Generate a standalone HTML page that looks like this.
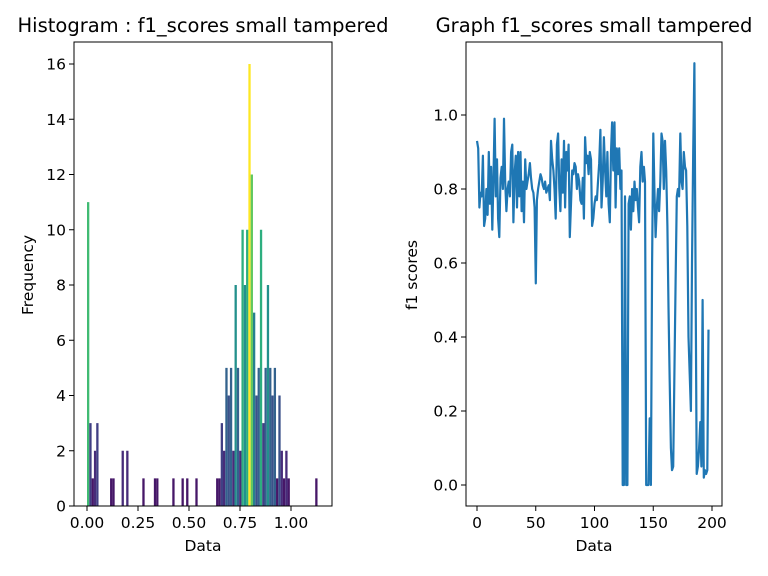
<!DOCTYPE html>
<html><head><meta charset="utf-8"><style>
body{margin:0;background:#fff;}
svg{display:block;font-family:"DejaVu Sans","Liberation Sans",sans-serif;}
</style></head><body>
<svg id="fig" width="768" height="576" viewBox="0 0 768 576" xmlns="http://www.w3.org/2000/svg">
<rect width="768" height="576" fill="#fff"/>
<g id="hist"></g>
<g id="line"></g>
</svg>
<script>
// ---- Histogram data (100 bins over [0, 1.13]) ----
const histMin = 0, histMax = 1.13;
const binCounts = [
11,3,1,2,3,0,0,0,0,0, 1,1,0,0,0,2,0,2,0,0, 0,0,0,0,1,0,0,0,0,1, 1,0,0,0,0,0,0,1,0,0,
0,1,0,1,0,0,0,1,0,0, 0,0,0,0,0,0,1,1,3,2, 5,4,5,2,8,5,2,10,8,10, 16,12,7,4,5,10,3,5,8,5,
4,5,1,4,2,1,2,1,0,0, 0,0,0,0,0,0,0,0,0,1];
const histYTicks = [0,2,4,6,8,10,12,14,16];
const histXTicks = [0,0.25,0.5,0.75,1.0];
const histXLabels = ["0.00","0.25","0.50","0.75","1.00"];
// ---- Line data ----
const f1Scores = [
.93,.91,.75,.79,.78,.89,.70,.72,.80,.73,
.90,.76,.86,.69,.82,.99,.78,.88,.72,.67,
.83,.86,.80,.99,.82,.74,.80,.82,.78,.90,
.92,.71,.84,.89,.75,.90,.78,.90,.74,.82,
.71,.88,.80,.82,.84,.87,.83,.80,.79,.75,
.545,.77,.80,.82,.84,.83,.81,.80,.82,.79,
.80,.81,.77,.93,.88,.85,.80,.72,.92,.95,
.80,.74,.88,.79,.93,.75,.90,.85,.92,.67,
.76,.85,.84,.87,.86,.80,.84,.82,.77,.76,
.83,.72,.94,.87,.89,.84,.90,.88,.70,.72,
.76,.78,.77,.82,.87,.96,.75,.82,.94,.85,
.78,.90,.76,.71,.90,.98,.85,.98,.75,.91,
.84,.91,.80,.85,0,0,.78,0,0,.76,
.78,.69,.80,.74,.82,.77,.80,.75,.71,.86,
.90,.82,.86,.82,0,0,0,.18,0,.60,
.95,.80,.67,.75,.80,.74,.82,.95,.93,.80,
.93,.85,.70,.48,.28,.10,.04,.05,.30,.55,
.78,.80,.78,.95,.82,.80,.90,.86,.85,.70,
.40,.30,.20,.60,.90,1.14,.60,.03,.05,.10,
.17,.05,.50,.02,.04,.03,.04,.42];
const lineYTicks = [0,0.2,0.4,0.6,0.8,1.0];
const lineYLabels = ["0.0","0.2","0.4","0.6","0.8","1.0"];
const lineXTicks = [0,50,100,150,200];

const NS="http://www.w3.org/2000/svg";
const TF=15.5, TTF=19.5;
function mk(parent,tag,attrs,text){const e=document.createElementNS(NS,tag);for(const k in attrs)e.setAttribute(k,attrs[k]);if(text!==undefined)e.textContent=text;parent.appendChild(e);return e;}
const vir=[[68,1,84],[72,40,120],[62,74,137],[49,104,142],[38,130,142],[31,158,137],[53,183,121],[110,206,88],[181,222,43],[253,231,37]];
function viridis(t){t=Math.max(0,Math.min(1,t))*(vir.length-1);const i=Math.min(Math.floor(t),vir.length-2),f=t-i;const c=vir[i].map((v,k)=>Math.round(v+(vir[i+1][k]-v)*f));return `rgb(${c[0]},${c[1]},${c[2]})`;}

// ---- Histogram ----
(function(){
const g=document.getElementById('hist');
const L=74,R=332,T=42,B=506;
const xs=v=>87+(v-0)*204;
const ys=v=>506-v*27.625;
const maxC=Math.max(...binCounts);
const w=(histMax-histMin)/binCounts.length;
binCounts.forEach((c,i)=>{
  if(!c)return;
  const x0=xs(histMin+i*w),x1=xs(histMin+(i+1)*w);
  const r=mk(g,'rect',{x:x0,y:ys(c),width:x1-x0,height:ys(0)-ys(c),fill:viridis(c/maxC)});
  
  
});
mk(g,'rect',{x:L,y:T,width:R-L,height:B-T,fill:'none',stroke:'#000','stroke-width':1,});
histYTicks.forEach(v=>{
  mk(g,'line',{x1:L-5,x2:L,y1:ys(v),y2:ys(v),stroke:'#000'});
  const t=mk(g,'text',{x:L-8,y:ys(v)+5.5,'text-anchor':'end','font-size':TF},String(v));
  
});
histXTicks.forEach((v,i)=>{
  mk(g,'line',{x1:xs(v),x2:xs(v),y1:B,y2:B+5,stroke:'#000'});
  const t=mk(g,'text',{x:xs(v),y:B+22,'text-anchor':'middle','font-size':TF},histXLabels[i]);
  
});
mk(g,'text',{x:203,y:551,'text-anchor':'middle','font-size':TF,},'Data');
mk(g,'text',{x:33,y:275,'text-anchor':'middle','font-size':TF,transform:'rotate(-90 33 275)',},'Frequency');
mk(g,'text',{x:203,y:32,'text-anchor':'middle','font-size':TTF,},'Histogram : f1_scores small tampered');
})();

// ---- Line chart ----
(function(){
const g=document.getElementById('line');
const L=466,R=722,T=42,B=506;
const xs=v=>477+v*1.175;
const ys=v=>485-v*370;
const pts=f1Scores.map((v,i)=>xs(i).toFixed(1)+','+ys(v).toFixed(1)).join(' ');
mk(g,'polyline',{points:pts,fill:'none',stroke:'#1f77b4','stroke-width':2.2,'stroke-linejoin':'round',});
mk(g,'rect',{x:L,y:T,width:R-L,height:B-T,fill:'none',stroke:'#000','stroke-width':1,});
lineYTicks.forEach((v,i)=>{
  mk(g,'line',{x1:L-5,x2:L,y1:ys(v),y2:ys(v),stroke:'#000'});
  const t=mk(g,'text',{x:L-8,y:ys(v)+5.5,'text-anchor':'end','font-size':TF},lineYLabels[i]);
  
});
lineXTicks.forEach(v=>{
  mk(g,'line',{x1:xs(v),x2:xs(v),y1:B,y2:B+5,stroke:'#000'});
  const t=mk(g,'text',{x:xs(v),y:B+22,'text-anchor':'middle','font-size':TF},String(v));
  
});
mk(g,'text',{x:594,y:551,'text-anchor':'middle','font-size':TF,},'Data');
mk(g,'text',{x:417,y:275,'text-anchor':'middle','font-size':TF,transform:'rotate(-90 417 275)',},'f1 scores');
mk(g,'text',{x:594,y:32,'text-anchor':'middle','font-size':TTF,},'Graph f1_scores small tampered');
})();
</script>
</body></html>
